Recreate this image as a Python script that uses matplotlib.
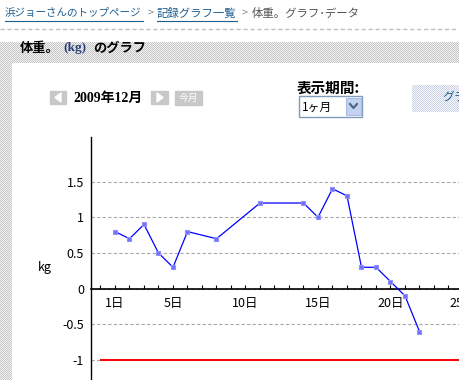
import numpy as np
import matplotlib
matplotlib.use("Agg")
import matplotlib.pyplot as plt
from matplotlib.patches import Rectangle, Polygon
from matplotlib.lines import Line2D
from matplotlib.ticker import FixedLocator, MultipleLocator, FuncFormatter

plt.rcParams["font.family"] = ["Noto Sans CJK JP", "DejaVu Sans"]
plt.rcParams["axes.unicode_minus"] = False

# data: weight change (kg) by day of December 2009
days = [1, 2, 3, 4, 5, 6, 8, 11, 14, 15, 16, 17, 18, 19, 20, 21, 22]
weight = [0.8, 0.7, 0.9, 0.5, 0.3, 0.8, 0.7, 1.2, 1.2, 1.0, 1.4, 1.3, 0.3, 0.3, 0.1, -0.1, -0.6]
target = -1
ytick_vals = [-1, -0.5, 0, 0.5, 1, 1.5]
xlabel_days = [1, 5, 10, 15, 20, 25]

W, H = 460, 380
fig = plt.figure(figsize=(W / 100, H / 100), dpi=100)


def fx(x):
    return x / W


def fy(y):
    return 1 - y / H


# stippled page backgrounds
img = np.zeros((H, W, 4))
yy, xx = np.mgrid[0:H, 0:W]
check = (yy + xx) % 2 == 0
gray = np.array([0.78, 0.78, 0.78, 1.0])
light = np.array([0.95, 0.95, 0.95, 1.0])
band = ((yy >= 42) & (yy < 63)) | ((xx < 12) & (yy >= 42))
img[band & check] = gray
img[band & ~check] = light
box = (xx >= 412) & (yy >= 85) & (yy < 112)
img[box & check] = [0.80, 0.83, 0.90, 1.0]
img[box & ~check] = [0.97, 0.97, 1.0, 1.0]
fig.figimage(img, 0, 0, origin="upper", zorder=0)

# breadcrumb
link = "#1f5f8f"
fig.text(fx(5), fy(13), "浜ジョーさんのトップページ", color=link, fontsize=7.6, va="center")
fig.add_artist(Line2D([fx(5), fx(143)], [fy(21), fy(21)], color=link, lw=0.8))
fig.text(fx(148), fy(13), ">", color="#888888", fontsize=8, va="center")
fig.text(fx(157), fy(13), "記録グラフ一覧", color=link, fontsize=8.2, va="center")
fig.add_artist(Line2D([fx(157), fx(237)], [fy(21), fy(21)], color=link, lw=0.8))
fig.text(fx(242), fy(13), ">", color="#888888", fontsize=8, va="center")
fig.text(fx(252), fy(13), "体重。グラフ･データ", color="#555555", fontsize=8.2, va="center")
fig.add_artist(Line2D([0, 1], [fy(29), fy(29)], color="#c0c0c0", lw=1, ls=(0, (3, 2))))

# header
fig.text(fx(20), fy(48), "体重。", fontsize=9.5, fontweight="bold", va="center")
fig.text(fx(63), fy(48), "(kg)", fontsize=9.5, fontweight="bold", va="center",
         family=["Liberation Serif"], color="#2a3f7a")
fig.text(fx(93), fy(48), "のグラフ", fontsize=9.5, fontweight="bold", va="center")

# month navigation
for x0, x1 in [(50, 66), (151, 168)]:
    fig.add_artist(Rectangle((fx(x0), fy(104)), fx(x1 - x0), 13 / H, color="#c8c8c8"))
fig.add_artist(Polygon([[fx(61), fy(93)], [fx(61), fy(102)], [fx(55), fy(97.5)]], color="white"))
fig.add_artist(Polygon([[fx(157), fy(93)], [fx(157), fy(102)], [fx(163), fy(97.5)]], color="white"))
fig.add_artist(Rectangle((fx(175), fy(105)), fx(27), 14 / H, color="#c8c8c8"))
fig.text(fx(188.5), fy(98), "今月", color="white", fontsize=7, ha="center", va="center")
fig.text(fx(73), fy(98), "2009年12月", fontsize=10, fontweight="bold", va="center",
         family=["Liberation Serif", "Noto Sans CJK JP"])

# period selector
fig.text(fx(297), fy(88), "表示期間:", fontsize=10.5, fontweight="bold", va="center")
fig.add_artist(Rectangle((fx(299), fy(117)), fx(63), 21 / H, facecolor="white", edgecolor="#7f9db9", lw=1))
fig.add_artist(Rectangle((fx(346), fy(115)), fx(15), 17 / H, facecolor="#c4d2f0", edgecolor="#a8bce6", lw=0.8))
fig.add_artist(Line2D([fx(350), fx(353.5), fx(357)], [fy(104), fy(108), fy(104)], color="#4d6185", lw=1.5))
fig.text(fx(302), fy(107), "1ヶ月", fontsize=8.5, va="center")
fig.text(fx(442), fy(97), "グラ", color=link, fontsize=8.5, va="center", style="italic")

# chart
ax = fig.add_axes([fx(91), 0, fx(520 - 91), (H - 137) / H])
ax.set_facecolor("none")
ax.set_xlim(1 + (91 - 115) / 14.5, 1 + (520 - 115) / 14.5)
ax.set_ylim(-(H - 288.7) / 71.4, (288.7 - 137) / 71.4)

ax.yaxis.set_major_locator(FixedLocator(ytick_vals))
ax.yaxis.set_major_formatter(FuncFormatter(lambda v, p: "%g" % v))
ax.xaxis.set_major_locator(FixedLocator(xlabel_days))
ax.xaxis.set_minor_locator(MultipleLocator(1))
ax.xaxis.set_major_formatter(FuncFormatter(lambda v, p: "%d日" % v))

ax.grid(axis="y", color="#a8a8a8", lw=0.8, ls=(0, (3, 2)))
ax.hlines(target, 0, 40, color="red", lw=1.4, zorder=3)
ax.plot(days, weight, color="#0000ff", lw=0.9, marker="s", ms=3.2,
        mfc="#7070ff", mec="#9090ff", mew=0.8, zorder=4)

ax.spines["top"].set_visible(False)
ax.spines["right"].set_visible(False)
ax.spines["bottom"].set_position(("data", 0))
ax.spines["bottom"].set_linewidth(1.2)
ax.spines["left"].set_linewidth(1.0)
ax.tick_params(axis="y", length=0, pad=5, labelsize=9)
ax.tick_params(axis="x", which="both", direction="in", length=3, width=0.8, pad=6, labelsize=9)

fig.text(fx(45), fy(268), "kg", fontsize=9, ha="center", va="center")

fig.savefig("out.png", dpi=100)
